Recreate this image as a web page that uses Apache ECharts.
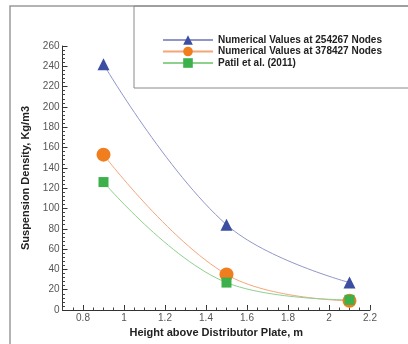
<!DOCTYPE html>
<html><head><meta charset="utf-8">
<script src="https://cdn.jsdelivr.net/npm/echarts@6/dist/echarts.min.js"></script>
<style>html,body{margin:0;padding:0;background:#fff}#c{width:408px;height:344px}</style>
</head><body><div id="c"></div>
<script>
var heights = [0.9, 1.5, 2.1];
var nodes254267 = [242, 84, 27];
var nodes378427 = [153, 35, 9];
var patil2011 = [126, 27, 10];
var seriesNames = ['Numerical Values at 254267 Nodes', 'Numerical Values at 378427 Nodes', 'Patil et al. (2011)'];
var xMajorTicks = [0.8, 1, 1.2, 1.4, 1.6, 1.8, 2, 2.2];

function pairs(ys){ return heights.map(function(x,i){ return [x, ys[i]]; }); }

var font = 'Liberation Sans, Arial, sans-serif';
var chart = echarts.init(document.getElementById('c'));
chart.setOption({
  animation: false,
  backgroundColor: '#fff',
  grid: {left: 62.5, right: 38, top: 46, bottom: 34},
  graphic: [
    {type: 'polyline', shape: {points: [[10, 344], [10, 6], [408, 6]]}, style: {stroke: '#9a9a9a', lineWidth: 1.5, fill: null}},
    {type: 'rect', shape: {x: 134, y: 6, width: 290, height: 82}, style: {stroke: '#8a8a8a', lineWidth: 1, fill: null}}
  ],
  legend: {
    orient: 'vertical', left: 157, top: 30, itemWidth: 50, itemHeight: 12, itemGap: 1.5,
    textStyle: {fontFamily: font, fontWeight: 'bold', fontSize: 10, color: '#222'},
    data: seriesNames
  },
  xAxis: [{
    type: 'value', min: 0.7, max: 2.2,
    name: 'Height above Distributor Plate, m', nameLocation: 'middle', nameGap: 13,
    nameTextStyle: {fontFamily: font, fontWeight: 'bold', fontSize: 11, color: '#222'},
    axisLine: {lineStyle: {color: '#333', width: 1}},
    axisTick: {inside: true, length: 5, customValues: xMajorTicks, lineStyle: {color: '#333'}},
    axisLabel: {customValues: xMajorTicks, fontFamily: font, fontSize: 10, color: '#555', margin: 3},
    splitLine: {show: false}
  }, {
    type: 'value', min: 0.7, max: 2.2, interval: 0.05, position: 'bottom',
    axisLine: {show: false}, axisLabel: {show: false}, splitLine: {show: false},
    axisTick: {inside: true, length: 2.5, lineStyle: {color: '#444'}}
  }],
  yAxis: {
    type: 'value', min: 0, max: 260, interval: 20,
    name: 'Suspension Density, Kg/m3', nameLocation: 'middle', nameGap: 24,
    nameTextStyle: {fontFamily: font, fontWeight: 'bold', fontSize: 11, color: '#222'},
    axisLine: {show: true, lineStyle: {color: '#333', width: 1}},
    axisTick: {show: true, inside: true, length: 5, lineStyle: {color: '#333'}},
    minorTick: {show: true, splitNumber: 5, length: 2.5, lineStyle: {color: '#444'}},
    axisLabel: {fontFamily: font, fontSize: 10, color: '#555', margin: 3},
    splitLine: {show: false}
  },
  series: [
    {name: seriesNames[0], type: 'line', smooth: 0.4, data: pairs(nodes254267), symbol: 'triangle', symbolSize: 12,
     lineStyle: {color: '#9196c9', width: 1}, itemStyle: {color: '#3b4ea0'}},
    {name: seriesNames[1], type: 'line', smooth: 0.4, data: pairs(nodes378427), symbol: 'circle', symbolSize: 14,
     lineStyle: {color: '#f4a679', width: 1}, itemStyle: {color: '#f07d1e'}},
    {name: seriesNames[2], type: 'line', smooth: 0.4, data: pairs(patil2011), symbol: 'rect', symbolSize: 10,
     lineStyle: {color: '#8fd08f', width: 1}, itemStyle: {color: '#3cb04a'}}
  ]
});
</script></body></html>
